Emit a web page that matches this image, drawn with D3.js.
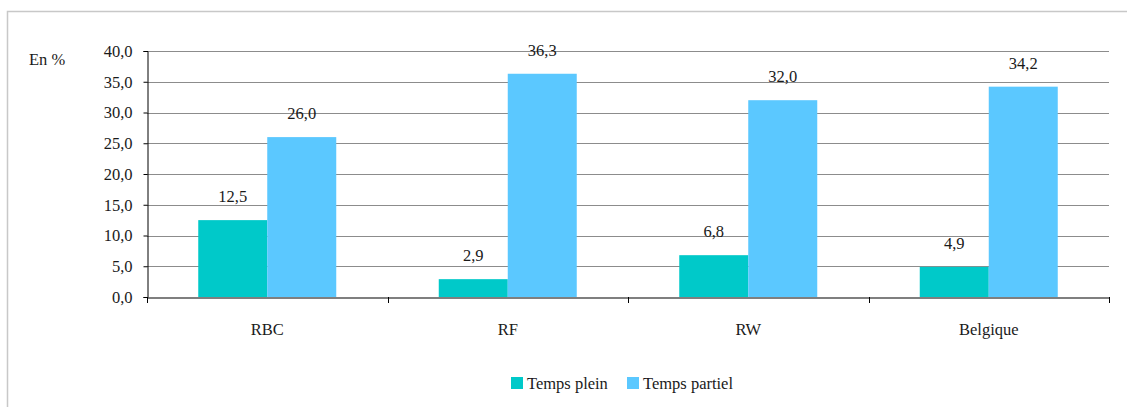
<!DOCTYPE html>
<html><head><meta charset="utf-8">
<script src="https://cdn.jsdelivr.net/npm/d3@7"></script>
</head><body style="margin:0;background:#fff">
<svg id="c" width="1127" height="407" font-family="Liberation Serif"></svg>
<script>
const categories = ["RBC","RF","RW","Belgique"];
const seriesNames = ["Temps plein","Temps partiel"];
const tempsPlein = [12.5, 2.9, 6.8, 4.9];
const tempsPartiel = [26.0, 36.3, 32.0, 34.2];
const yTicks = [0,5,10,15,20,25,30,35,40];
const colors = ["#00C9C9","#5BC8FF"];

const FS = 16.5;
const svg = d3.select("#c");
svg.append("path").attr("d","M7.5,407V11.5H1127").attr("fill","none").attr("stroke","#c8c8c8").attr("stroke-width",1.5);

const L=147,R=1109,T=51,B=297;
const x = d3.scaleBand().domain(categories).range([L,R]);
const y = d3.scaleLinear().domain([0,40]).range([B,T]);
const fmt = v => d3.format(".1f")(v).replace(".",",");
const styleText = s => s.attr("font-family","Liberation Serif").style("font-family","Liberation Serif").attr("font-size",FS).attr("fill","#1a1a1a");

svg.append("g").selectAll("line").data(yTicks.filter(t=>t>0)).join("line")
  .attr("x1",L).attr("x2",R).attr("y1",d=>Math.round(y(d))+0.5).attr("y2",d=>Math.round(y(d))+0.5)
  .attr("stroke","#8c8c8c").attr("stroke-width",1);

const data = categories.map((c,i)=>({c, vals:[tempsPlein[i],tempsPartiel[i]]}));
const bw = 69;
const g = svg.append("g");
data.forEach(d=>{
  const cx = x(d.c)+x.bandwidth()/2;
  d.vals.forEach((v,j)=>{
    const x0 = cx + (j===0 ? -bw : 0);
    g.append("rect").attr("x",x0).attr("y",y(v)).attr("width",bw).attr("height",B-y(v)).attr("fill",colors[j]);
    g.append("text").attr("x",x0+bw/2).attr("y",y(v)-18).attr("text-anchor","middle").text(fmt(v)).call(styleText);
  });
});

const ya = svg.append("g").attr("transform",`translate(${L+0.5},0)`)
  .call(d3.axisLeft(y).tickValues(yTicks).tickFormat(fmt).tickSize(4).tickPadding(11));
ya.attr("font-family","Liberation Serif");
ya.select(".domain").attr("stroke","#000");
ya.selectAll(".tick line").attr("stroke","#000");
ya.selectAll("text").call(styleText);

const xa = svg.append("g").attr("transform",`translate(0,${B+0.5})`)
  .call(d3.axisBottom(x).tickSize(0).tickPadding(26));
xa.attr("font-family","Liberation Serif");
xa.select(".domain").attr("stroke","#000").attr("stroke-width",1.2);
xa.selectAll("text").call(styleText);
svg.append("g").selectAll("line").data(d3.range(categories.length+1)).join("line")
  .attr("x1",i=>Math.round(L+i*x.step())+0.5).attr("x2",i=>Math.round(L+i*x.step())+0.5)
  .attr("y1",B).attr("y2",B+6).attr("stroke","#000");

svg.append("text").attr("x",29).attr("y",65).text("En %").call(styleText);

const lg = svg.append("g");
const lx = [511, 627];
seriesNames.forEach((n,i)=>{
  lg.append("rect").attr("x",lx[i]).attr("y",377).attr("width",12).attr("height",12).attr("fill",colors[i]);
  lg.append("text").attr("x",lx[i]+16).attr("y",389).text(n).call(styleText);
});
</script></body></html>
